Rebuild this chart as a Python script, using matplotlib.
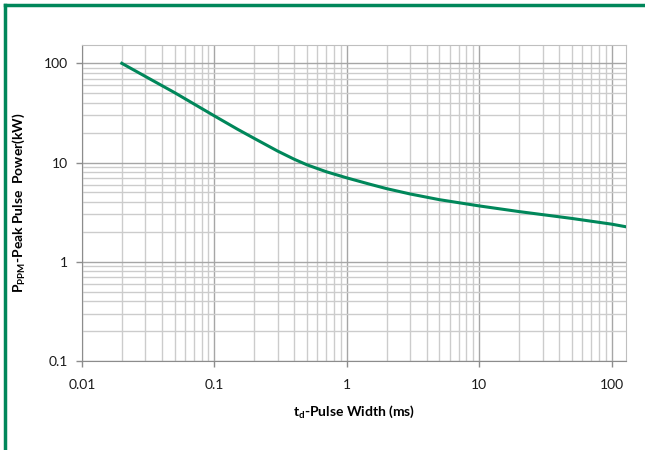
"""Peak pulse power versus pulse width, log-log derating curve."""

import matplotlib

matplotlib.use("Agg")
import matplotlib.pyplot as plt
from matplotlib.ticker import FixedLocator, LogLocator, NullFormatter

# values
pulse_width_ms = [0.02, 0.03, 0.05, 0.1, 0.15, 0.2, 0.3, 0.4, 0.5, 0.7, 1, 1.5, 2, 3, 5, 10, 20, 50, 100, 128]
peak_power_kw = [100, 74, 50.7, 29.5, 21.6, 17.5, 13.05, 10.8, 9.48, 8.07, 7.0, 6.03, 5.45, 4.82, 4.22, 3.65, 3.2, 2.73, 2.39, 2.25]

x_ticks = [0.01, 0.1, 1, 10, 100]
x_tick_labels = ["0.01", "0.1", "1", "10", "100"]
y_ticks = [0.1, 1, 10, 100]
y_tick_labels = ["0.1", "1", "10", "100"]

GREEN = "#00875A"
FONT = "Lato"

plt.rcParams["font.family"] = [FONT, "DejaVu Sans"]
plt.rcParams["mathtext.fontset"] = "custom"
plt.rcParams["mathtext.rm"] = FONT
plt.rcParams["mathtext.bf"] = f"{FONT}:bold"

fig = plt.figure(figsize=(6.45, 4.5), dpi=100)
ax = fig.add_axes([0.127, 0.198, 0.8435, 0.702])

ax.plot(pulse_width_ms, peak_power_kw, color=GREEN, linewidth=2.2, zorder=3,
        solid_joinstyle="round")

ax.set_xscale("log")
ax.set_yscale("log")
ax.set_xlim(0.01, 128)
ax.set_ylim(0.1, 153)

ax.xaxis.set_major_locator(FixedLocator(x_ticks))
ax.set_xticklabels(x_tick_labels)
ax.yaxis.set_major_locator(FixedLocator(y_ticks))
ax.set_yticklabels(y_tick_labels)
ax.xaxis.set_minor_locator(LogLocator(base=10, subs=range(2, 10), numticks=20))
ax.yaxis.set_minor_locator(LogLocator(base=10, subs=range(2, 10), numticks=20))
ax.xaxis.set_minor_formatter(NullFormatter())
ax.yaxis.set_minor_formatter(NullFormatter())

ax.grid(which="major", color="#a6a6a6", linewidth=1.0)
ax.grid(which="minor", color="#cccccc", linewidth=1.0)
ax.tick_params(which="major", length=4, width=1, color="#8c8c8c", labelsize=10, labelcolor="#1a1a1a")
ax.tick_params(axis="x", which="major", pad=9)
ax.tick_params(axis="y", which="major", pad=6)
ax.tick_params(which="minor", length=0)
for side in ("left", "bottom"):
    ax.spines[side].set_color("#8c8c8c")
for side in ("top", "right"):
    ax.spines[side].set_color("#bfbfbf")

ax.set_xlabel(r"$\mathbf{t_{d}}$-Pulse Width (ms)", fontsize=10, fontweight="bold", labelpad=9)
ax.set_ylabel(r"$\mathbf{P_{PPM}}$-Peak Pulse  Power(kW)", fontsize=10, fontweight="bold", labelpad=12)

# green frame along the top and left edges of the figure
fig.add_artist(plt.Line2D([0.007, 0.007], [0, 0.99], transform=fig.transFigure, color=GREEN, linewidth=2.5))
fig.add_artist(plt.Line2D([0.007, 1], [0.99, 0.99], transform=fig.transFigure, color=GREEN, linewidth=2.5))

fig.savefig("out.png", dpi=100)
